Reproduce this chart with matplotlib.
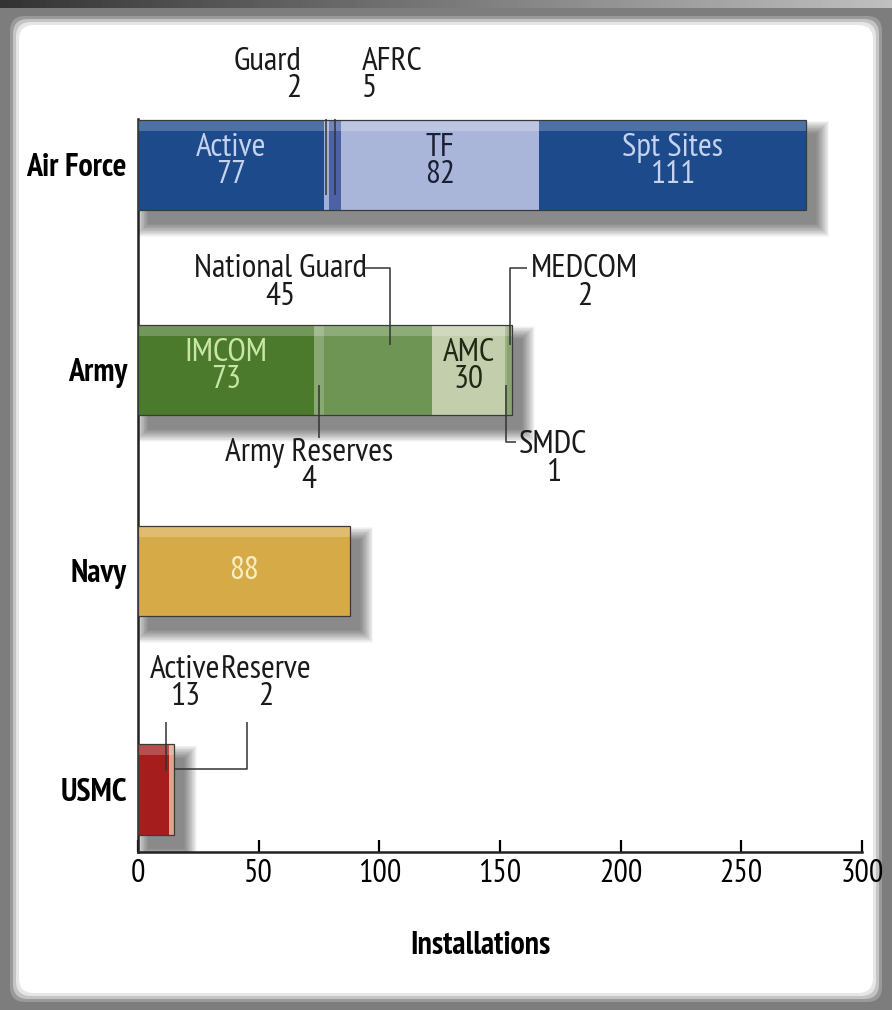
import numpy as np
import matplotlib
matplotlib.use('Agg')
import matplotlib.pyplot as plt
from matplotlib.patches import FancyBboxPatch, Rectangle

plt.rcParams['font.family'] = ['PT Sans Narrow', 'Liberation Sans', 'DejaVu Sans']

# Data
categories = ['Air Force', 'Army', 'Navy', 'USMC']

af_labels = ['Active', 'Guard', 'AFRC', 'TF', 'Spt Sites']
af_values = [77, 2, 5, 82, 111]

army_labels = ['IMCOM', 'Army Reserves', 'National Guard', 'AMC', 'SMDC', 'MEDCOM']
army_values = [73, 4, 45, 30, 1, 2]

navy_labels = ['Navy']
navy_values = [88]

usmc_labels = ['Active', 'Reserve']
usmc_values = [13, 2]

# Colours
af_colors = ['#1d4a8a', '#a3b0d6', '#4d62a6', '#aab5da', '#1d4a8a']
army_colors = ['#4b7a2c', '#8aa872', '#6f9555', '#c3cfac', '#9cb285', '#8aa470']
navy_colors = ['#d7aa48']
usmc_colors = ['#a51d1d', '#e3a28e']

series = [
    (af_labels, af_values, af_colors),
    (army_labels, army_values, army_colors),
    (navy_labels, navy_values, navy_colors),
    (usmc_labels, usmc_values, usmc_colors),
]

# ###########################################################
fig = plt.figure(figsize=(8.92, 10.1), dpi=100, facecolor='#7d7d7d')

# white panel with soft grey edge
for pad, col in [(0.00, '#9a9a9a'), (0.03, '#c4c4c4'), (0.06, '#e6e6e6'), (0.09, 'white')]:
    fig.patches.append(FancyBboxPatch((0.10 + pad, 0.08 + pad), 8.72 - 2 * pad, 9.86 - 2 * pad,
                                      boxstyle='round,pad=0,rounding_size=0.15',
                                      transform=fig.dpi_scale_trans, facecolor=col,
                                      edgecolor='none', zorder=-10))

# dark strip along the top
strip = fig.add_axes([0, 1 - 8 / 1010, 1, 8 / 1010])
strip.imshow(np.linspace(0.2, 0.75, 256).reshape(1, -1), cmap='gray', aspect='auto',
             vmin=0, vmax=1)
strip.axis('off')

ax = fig.add_axes([138 / 892, 1 - 852 / 1010, 724 / 892, (852 - 119) / 1010])
ax.set_facecolor('none')

h = 0.433
ypos = [0, 0.985, 1.95, 3.0]
# data units per pixel along x, and along y
ux = 300 / 724
uy = 1 / 208

for i, (labels, values, colors) in enumerate(series):
    total = sum(values)
    # soft drop shadow, built up from many faint layers
    for k in range(18):
        g = (17 - k) * 0.75
        ax.add_patch(Rectangle((10 * ux - g * ux, ypos[i] - h / 2 + 14 * uy - g * uy),
                               total + 2 * g * ux, h + 2 * g * uy,
                               facecolor='black', alpha=0.03, edgecolor='none', zorder=1))
    left = np.cumsum([0] + values[:-1])
    ax.barh(ypos[i], values, left=left, height=h, color=colors, edgecolor='none', zorder=3)
    # top highlight
    ax.barh(ypos[i] - h / 2 + h * 0.06, values, left=left, height=h * 0.12,
            color='white', alpha=0.22, edgecolor='none', zorder=4)
    ax.add_patch(Rectangle((0, ypos[i] - h / 2), total, h, facecolor='none',
                           edgecolor='#3a3a3a', linewidth=0.9, zorder=5))

centers = {}
for i, (labels, values, colors) in enumerate(series):
    left = np.cumsum([0] + values[:-1])
    for lab, v, l in zip(labels, values, left):
        centers[(i, lab)] = l + v / 2

# labels inside bars
inside = [
    (0, 'Active', '#c6d3ef'),
    (0, 'TF', '#1b1f33'),
    (0, 'Spt Sites', '#c6d3ef'),
    (1, 'IMCOM', '#c9e6a6'),
    (1, 'AMC', '#1f2a14'),
]
for i, lab, col in inside:
    v = series[i][1][series[i][0].index(lab)]
    ax.text(centers[(i, lab)], ypos[i] - 0.015, f'{lab}\n{v}', ha='center', va='center',
            fontsize=24, color=col, linespacing=0.88, zorder=6)
ax.text(centers[(2, 'Navy')], ypos[2], f'{navy_values[0]}', ha='center', va='center',
        fontsize=24, color='#f7efc4', zorder=6)

# callouts
line_kw = dict(color='#333333', linewidth=1.1, zorder=7, solid_capstyle='butt')
tk = dict(fontsize=24, color='#1a1a1a', linespacing=0.88, va='center', zorder=7)


def callout(i, lab, tx, ty, ha, xs, ys):
    v = series[i][1][series[i][0].index(lab)]
    ax.text(tx, ty, f'{lab}\n{v}', ha=ha, multialignment=ha, **tk)
    ax.plot(xs, ys, **line_kw)


c = centers
callout(0, 'Guard', 67.5, -0.43, 'right', [70.4, c[(0, 'Guard')], c[(0, 'Guard')]], [-0.466, -0.466, 0.144])
callout(0, 'AFRC', 92.8, -0.43, 'left', [90.3, c[(0, 'AFRC')], c[(0, 'AFRC')]], [-0.466, -0.466, 0.144])
callout(1, 'National Guard', 59, 0.567, 'center', [93.7, c[(1, 'National Guard')] + 5, c[(1, 'National Guard')] + 5], [0.495, 0.495, 0.865])
callout(1, 'MEDCOM', 185, 0.567, 'center', [161, c[(1, 'MEDCOM')], c[(1, 'MEDCOM')]], [0.495, 0.495, 0.865])
callout(1, 'Army Reserves', 70.9, 1.447, 'center', [c[(1, 'Army Reserves')], c[(1, 'Army Reserves')]], [1.058, 1.31])
callout(1, 'SMDC', 172, 1.413, 'center', [c[(1, 'SMDC')], c[(1, 'SMDC')], 156.6], [1.058, 1.332, 1.332])
callout(3, 'Active', 19.5, 2.49, 'center', [c[(3, 'Active')] + 5, c[(3, 'Active')] + 5], [2.678, 2.91])
callout(3, 'Reserve', 53, 2.49, 'center', [sum(usmc_values), 45.2, 45.2], [2.9, 2.9, 2.678])

# axes styling
ax.set_xlim(0, 300)
ax.set_ylim(3.30, -0.22)
ax.set_yticks(ypos)
ax.set_yticklabels(categories, fontsize=23, fontweight='bold')
ax.tick_params(axis='y', length=0, pad=8)
ax.set_xticks([0, 50, 100, 150, 200, 250, 300])
ax.tick_params(axis='x', direction='in', length=9, width=1.6, labelsize=23, pad=5)
ax.set_xlabel('Installations', fontsize=23, fontweight='bold')
ax.xaxis.set_label_coords((480 - 138) / 724, -0.128)
ax.xaxis.label.set_va('center')
for s in ['top', 'right']:
    ax.spines[s].set_visible(False)
for s in ['left', 'bottom']:
    ax.spines[s].set_linewidth(1.8)
    ax.spines[s].set_color('#222222')

plt.savefig('out.png', dpi=100, facecolor=fig.get_facecolor())
